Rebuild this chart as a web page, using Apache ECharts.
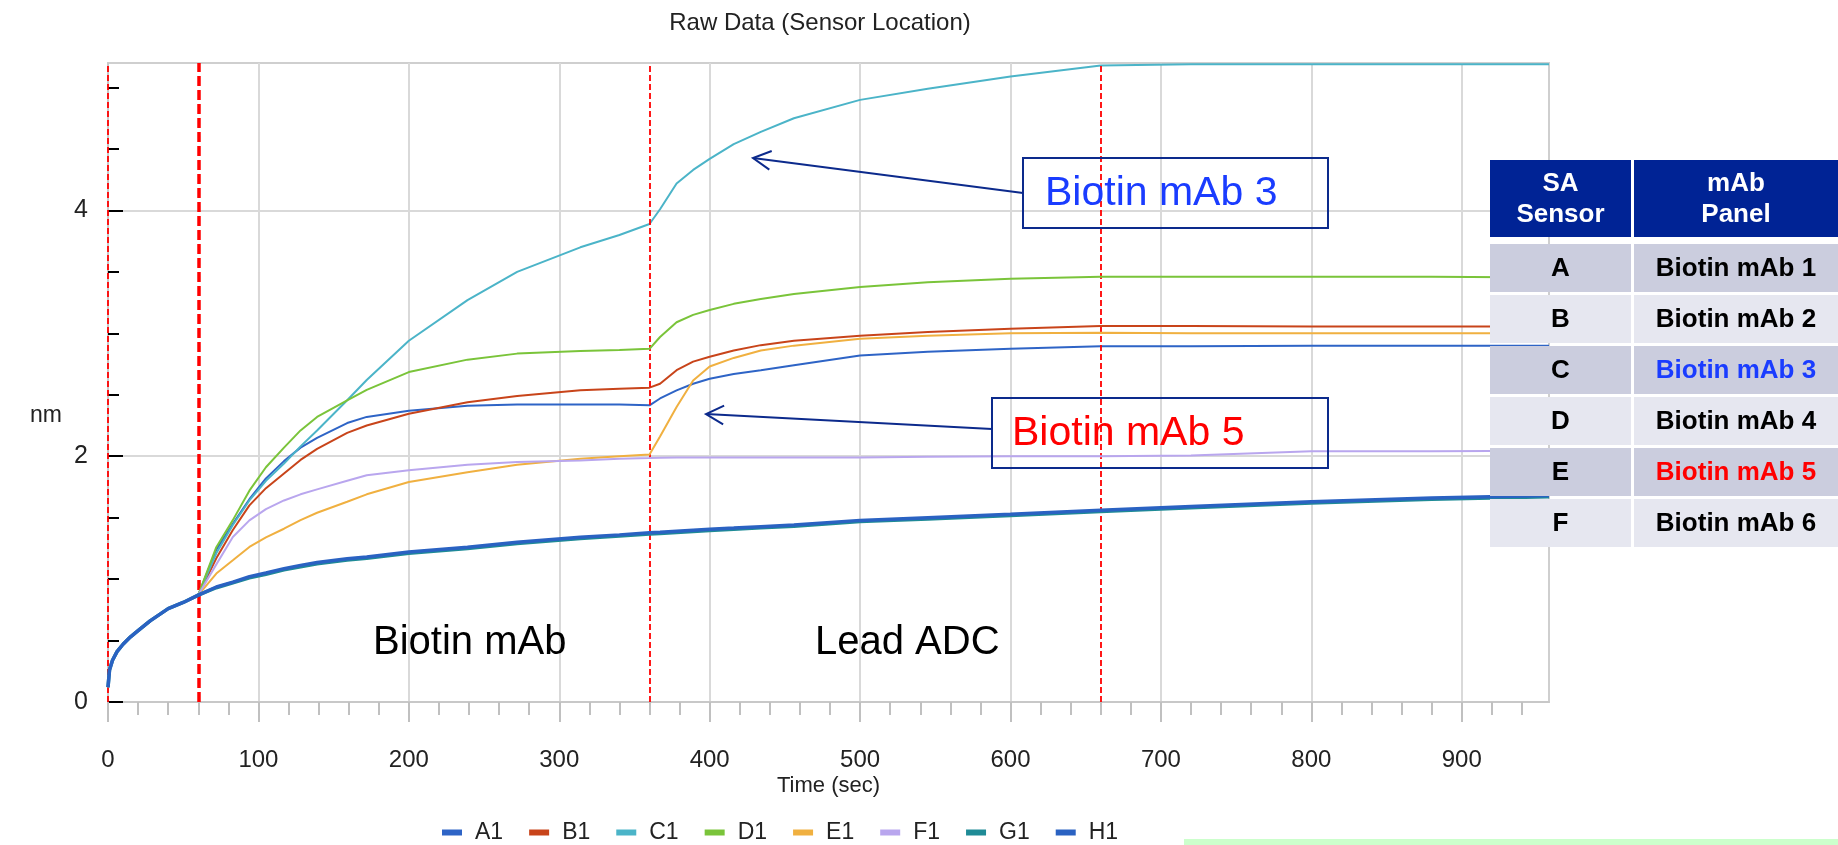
<!DOCTYPE html>
<html>
<head>
<meta charset="utf-8">
<script src="https://cdn.jsdelivr.net/npm/echarts@6/dist/echarts.min.js"></script>
<style>
  html, body { margin: 0; padding: 0; background: #fff; }
  #chart { width: 1838px; height: 845px; }
</style>
</head>
<body>
<div id="chart"></div>
<script>
// sample times (sec)
const times = [0, 1, 3, 6, 10, 15, 20, 28, 40, 50, 60,
  72, 83, 94, 105, 117, 128, 139, 159, 172, 200,
  239, 272, 314, 340, 360,
  367, 378, 389, 400, 416, 434, 456,
  500, 545, 600, 660, 720, 800, 880, 958]

// shared loading step (0-60 s), all sensors overlap here
const loading = [0.12, 0.26, 0.34, 0.41, 0.47, 0.53, 0.58, 0.66, 0.76, 0.81, 0.87]

// nm after 60 s, one value per remaining time
const a1 = [1.24, 1.45, 1.65, 1.82, 1.96, 2.07, 2.15, 2.27, 2.32, 2.37,
  2.41, 2.42, 2.42, 2.42, 2.414,
  2.47, 2.536, 2.59, 2.63, 2.67, 2.70, 2.74,
  2.82, 2.85, 2.875, 2.894, 2.895, 2.90, 2.90, 2.90]
const b1 = [1.17, 1.40, 1.60, 1.74, 1.86, 1.97, 2.06, 2.19, 2.25, 2.346,
  2.44, 2.49, 2.536, 2.55, 2.558,
  2.59, 2.70, 2.77, 2.81, 2.86, 2.904, 2.94,
  2.98, 3.01, 3.038, 3.06, 3.06, 3.055, 3.055, 3.055]
const c1 = [1.21, 1.44, 1.64, 1.80, 1.94, 2.08, 2.21, 2.455, 2.62, 2.94,
  3.27, 3.50, 3.70, 3.80, 3.89,
  4.01, 4.22, 4.33, 4.42, 4.54, 4.64, 4.75,
  4.90, 4.99, 5.09, 5.18, 5.19, 5.19, 5.19, 5.19]
const d1 = [1.26, 1.48, 1.72, 1.91, 2.07, 2.21, 2.32, 2.455, 2.54, 2.685,
  2.786, 2.835, 2.856, 2.865, 2.874,
  2.97, 3.09, 3.15, 3.19, 3.24, 3.28, 3.32,
  3.377, 3.415, 3.445, 3.46, 3.46, 3.46, 3.46, 3.455]
const e1 = [1.045, 1.153, 1.262, 1.34, 1.41, 1.48, 1.54, 1.63, 1.69, 1.79,
  1.87, 1.93, 1.98, 2.0, 2.015,
  2.16, 2.40, 2.617, 2.73, 2.80, 2.86, 2.90,
  2.956, 2.98, 3.0, 3.005, 3.0, 3.0, 3.0, 3.0]
const f1 = [1.12, 1.343, 1.478, 1.57, 1.64, 1.69, 1.73, 1.80, 1.845, 1.885,
  1.93, 1.953, 1.966, 1.98, 1.985,
  1.988, 1.99, 1.99, 1.99, 1.99, 1.99, 1.99,
  1.99, 1.995, 2.0, 2.0, 2.005, 2.04, 2.04, 2.045]
const g1 = [0.93, 0.97, 1.01, 1.04, 1.075, 1.10, 1.125, 1.155, 1.17, 1.21,
  1.25, 1.29, 1.33, 1.35, 1.368,
  1.372, 1.38, 1.388, 1.395, 1.405, 1.417, 1.43,
  1.468, 1.49, 1.517, 1.55, 1.58, 1.62, 1.65, 1.67]
const h1 = [0.936, 0.976, 1.02, 1.05, 1.085, 1.112, 1.135, 1.166, 1.18, 1.22,
  1.26, 1.30, 1.34, 1.36, 1.378,
  1.382, 1.39, 1.398, 1.405, 1.415, 1.427, 1.44,
  1.478, 1.50, 1.527, 1.56, 1.59, 1.63, 1.66, 1.68]

const sensorNames = ['A1', 'B1', 'C1', 'D1', 'E1', 'F1', 'G1', 'H1']
const sensorValues = [a1, b1, c1, d1, e1, f1, g1, h1]
const sensorColors = ['#2e64c6', '#c8441a', '#4bb4c8', '#7ac43a', '#f0b040', '#b9a6ee', '#1f8b96', '#2a62c2']

// step boundaries (sec)
const stepTimes = [0, 60, 360, 660]
const stepNames = ['Biotin mAb', 'Lead ADC']

const xTicks = [0, 100, 200, 300, 400, 500, 600, 700, 800, 900]
const xMinorTicks = [20, 40, 60, 80, 120, 140, 160, 180, 220, 240, 260, 280, 320, 340, 360, 380,
  420, 440, 460, 480, 520, 540, 560, 580, 620, 640, 660, 680, 720, 740, 760, 780,
  820, 840, 860, 880, 920, 940]
const yTicks = [0, 2, 4]
const yMinorTicks = [0.5, 1, 1.5, 2.5, 3, 3.5, 4.5, 5]

// side table
const tableHead = ['SA\nSensor', 'mAb\nPanel']
const tableSensors = ['A', 'B', 'C', 'D', 'E', 'F']
const tablePanels = ['Biotin mAb 1', 'Biotin mAb 2', 'Biotin mAb 3', 'Biotin mAb 4', 'Biotin mAb 5', 'Biotin mAb 6']

const FONT = '"Liberation Sans", Arial, sans-serif'

const chart = echarts.init(document.getElementById('chart'))

const seriesData = (vals) => times.map((t, i) => [t, i < loading.length ? loading[i] : vals[i - loading.length]])

const series = sensorNames.map((name, i) => ({
    name: name,
    type: 'line',
    data: seriesData(sensorValues[i]),
    showSymbol: false,
    symbol: 'none',
    color: sensorColors[i],
    lineStyle: { width: i >= 6 ? 3.5 : 2, color: sensorColors[i] },
    z: 2 + i
}))

// red dashed step markers
series.push({
    name: 'steps',
    type: 'line',
    data: [[0, null]],
    showSymbol: false,
    z: 20,
    markLine: {
        silent: true,
        symbol: 'none',
        label: { show: false },
        data: stepTimes.map(t => ({
            xAxis: t,
            lineStyle: {
                color: '#ff0000',
                type: t === 60 ? [10, 4] : [6, 3],
                width: t === 60 ? 3.5 : 1.8
            }
        }))
    }
})

// arrow helper for the callouts
const arrow = (x1, y1, x2, y2) => {
    const dx = x1 - x2
    const dy = y1 - y2
    const len = Math.sqrt(dx * dx + dy * dy)
    const ux = dx / len
    const uy = dy / len
    const a = 28 * Math.PI / 180
    const wing = 20
    const w1 = [x2 + wing * (ux * Math.cos(a) - uy * Math.sin(a)), y2 + wing * (ux * Math.sin(a) + uy * Math.cos(a))]
    const w2 = [x2 + wing * (ux * Math.cos(a) + uy * Math.sin(a)), y2 + wing * (-ux * Math.sin(a) + uy * Math.cos(a))]
    return [
        { type: 'line', shape: { x1, y1, x2, y2 }, style: { stroke: '#0c2a8c', lineWidth: 2 }, z: 100 },
        { type: 'polyline', shape: { points: [w1, [x2, y2], w2] }, style: { stroke: '#0c2a8c', lineWidth: 2, fill: null }, z: 100 }
    ]
}

const tableEls = []
const colX = [1490, 1634]
const colW = [141, 204]
tableHead.forEach((txt, c) => {
    tableEls.push({ type: 'rect', shape: { x: colX[c], y: 160, width: colW[c], height: 77 }, style: { fill: '#002395' }, z: 100 })
    tableEls.push({
        type: 'text', x: colX[c] + colW[c] / 2, y: 199, z: 101,
        style: { text: txt, fill: '#fff', font: 'bold 26px ' + FONT, align: 'center', verticalAlign: 'middle', lineHeight: 31 }
    })
})
tableSensors.forEach((s, r) => {
    const y = 244 + r * 51
    const fill = r % 2 === 0 ? '#cbcdde' : '#e6e7f0'
    const panelColor = r === 2 ? '#1a3cff' : (r === 4 ? '#ff0000' : '#000')
    tableEls.push({ type: 'rect', shape: { x: colX[0], y: y, width: colW[0], height: 48 }, style: { fill }, z: 100 })
    tableEls.push({ type: 'rect', shape: { x: colX[1], y: y, width: colW[1], height: 48 }, style: { fill }, z: 100 })
    tableEls.push({
        type: 'text', x: colX[0] + colW[0] / 2, y: y + 25, z: 101,
        style: { text: s, fill: '#000', font: 'bold 26px ' + FONT, align: 'center', verticalAlign: 'middle' }
    })
    tableEls.push({
        type: 'text', x: colX[1] + colW[1] / 2, y: y + 25, z: 101,
        style: { text: tablePanels[r], fill: panelColor, font: 'bold 26px ' + FONT, align: 'center', verticalAlign: 'middle' }
    })
})

const option = {
    animation: false,
    backgroundColor: '#fff',
    title: {
        text: 'Raw Data (Sensor Location)',
        left: 815,
        top: 6,
        textAlign: 'center',
        textStyle: { fontFamily: FONT, fontSize: 24, fontWeight: 'normal', color: '#222' }
    },
    legend: {
        data: sensorNames,
        left: 437,
        top: 816,
        icon: 'rect',
        itemWidth: 20,
        itemHeight: 6,
        itemGap: 26,
        textStyle: { fontFamily: FONT, fontSize: 23, color: '#222', padding: [0, 0, 0, 8] }
    },
    grid: {
        left: 108,
        right: 289,
        top: 63,
        bottom: 143,
        show: true,
        borderColor: '#cfcfcf',
        borderWidth: 2
    },
    xAxis: [
        {
            type: 'value',
            min: 0,
            max: 958,
            interval: 100,
            name: 'Time (sec)',
            nameLocation: 'middle',
            nameGap: 73,
            nameMoveOverlap: false,
            nameTextStyle: { fontFamily: FONT, fontSize: 22, color: '#222' },
            axisLine: { lineStyle: { color: '#c8c8c8', width: 2 } },
            axisTick: { length: 20, customValues: xTicks, lineStyle: { color: '#c0c0c0', width: 2 } },
            axisLabel: { customValues: xTicks, margin: 46, fontFamily: FONT, fontSize: 24, color: '#222' },
            splitLine: { show: true, lineStyle: { color: '#d9d9d9', width: 2 } }
        },
        {
            type: 'value',
            min: 0,
            max: 958,
            position: 'bottom',
            axisLine: { show: false },
            axisTick: { length: 13, customValues: xMinorTicks, lineStyle: { color: '#c0c0c0', width: 2 } },
            axisLabel: { show: false },
            splitLine: { show: false }
        }
    ],
    yAxis: [
        {
            type: 'value',
            min: 0,
            max: 5.2,
            interval: 2,
            axisLine: { show: true, lineStyle: { color: '#c8c8c8', width: 2 } },
            axisTick: { inside: true, length: 15, customValues: yTicks, lineStyle: { color: '#000', width: 2 } },
            axisLabel: { customValues: yTicks, margin: 20, fontFamily: FONT, fontSize: 25, color: '#222' },
            splitLine: { show: true, lineStyle: { color: '#d9d9d9', width: 2 } }
        },
        {
            type: 'value',
            min: 0,
            max: 5.2,
            position: 'left',
            axisLine: { show: false },
            axisTick: { inside: true, length: 11, customValues: yMinorTicks, lineStyle: { color: '#000', width: 2 } },
            axisLabel: { show: false },
            splitLine: { show: false }
        }
    ],
    series: series,
    graphic: [
        // y axis unit
        { type: 'text', x: 46, y: 416, z: 100, style: { text: 'nm', fill: '#222', font: '23px ' + FONT, align: 'center', verticalAlign: 'middle' } },
        // step labels
        { type: 'text', x: 373, y: 643, z: 100, style: { text: stepNames[0], fill: '#000', font: '40px ' + FONT, verticalAlign: 'middle' } },
        { type: 'text', x: 815, y: 643, z: 100, style: { text: stepNames[1], fill: '#000', font: '40px ' + FONT, verticalAlign: 'middle' } },
        // callout boxes
        { type: 'rect', shape: { x: 1023, y: 158, width: 305, height: 70 }, style: { stroke: '#0c2a8c', lineWidth: 2, fill: null }, z: 100 },
        { type: 'text', x: 1045, y: 194, z: 101, style: { text: 'Biotin mAb 3', fill: '#1a3cff', font: '41px ' + FONT, verticalAlign: 'middle' } },
        { type: 'rect', shape: { x: 992, y: 398, width: 336, height: 70 }, style: { stroke: '#0c2a8c', lineWidth: 2, fill: null }, z: 100 },
        { type: 'text', x: 1012, y: 434, z: 101, style: { text: 'Biotin mAb 5', fill: '#ff0000', font: '41px ' + FONT, verticalAlign: 'middle' } },
        ...arrow(1023, 193, 753, 158),
        ...arrow(992, 429, 706, 414),
        ...tableEls,
        // green strip at bottom
        { type: 'rect', shape: { x: 1184, y: 839, width: 654, height: 6 }, style: { fill: '#ccffcc' }, z: 100 }
    ]
}

chart.setOption(option)
</script>
</body>
</html>
